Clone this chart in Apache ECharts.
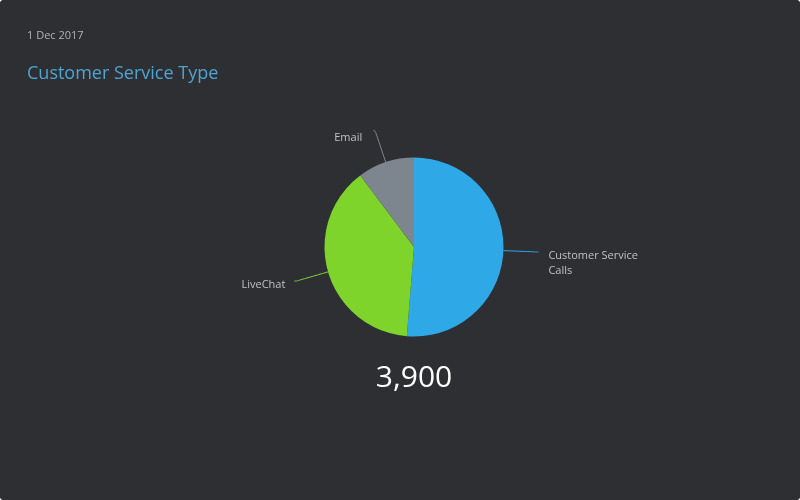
<!DOCTYPE html>
<html>
<head>
<meta charset="utf-8">
<script src="https://cdn.jsdelivr.net/npm/echarts@6/dist/echarts.min.js"></script>
<style>
  html, body { margin: 0; padding: 0; background: #ffffff; }
  #chart { width: 800px; height: 500px; background: #2e2f33; border-radius: 4px; overflow: hidden; }
</style>
</head>
<body>
<div id="chart"></div>
<script>
// data
var categories = ['Customer Service Calls', 'LiveChat', 'Email'];
var values = [2000, 1500, 400];
var colors = ['#2fa8e7', '#7ed42b', '#7d868e'];
var dateLabel = '1 Dec 2017';
var titleText = 'Customer Service Type';

var total = values.reduce(function (a, b) { return a + b; }, 0);

// nudges so the labels sit like the original connectors
var labelShiftX = [1, 0, -2];
var labelShiftY = [11, 4, 7];

var chart = echarts.init(document.getElementById('chart'), null, { renderer: 'canvas' });

var seriesData = categories.map(function (name, i) {
  return {
    name: name,
    value: values[i],
    itemStyle: { color: colors[i] },
    labelLine: { lineStyle: { color: colors[i] } }
  };
});

var option = {
  backgroundColor: '#2e2f33',
  animation: false,
  title: [{
    text: dateLabel,
    left: 22,
    top: 25,
    textStyle: { color: '#b3b3b3', fontSize: 11, fontWeight: 'normal', fontFamily: 'Open Sans' }
  }, {
    text: titleText,
    left: 22,
    top: 60,
    textStyle: { color: '#4ea4d3', fontSize: 18, fontWeight: 'normal', fontFamily: 'Open Sans' }
  }],
  graphic: [{
    type: 'text',
    x: 414,
    y: 378,
    style: {
      text: total.toLocaleString('en-US'),
      fill: '#ffffff',
      font: '30px "Open Sans"',
      textAlign: 'center',
      textVerticalAlign: 'middle'
    }
  }],
  series: [{
    type: 'pie',
    center: [414, 247],
    radius: 89.5,
    startAngle: 90,
    clockwise: true,
    data: seriesData,
    itemStyle: { borderWidth: 0 },
    label: {
      color: '#c0c0c0',
      fontSize: 11,
      fontFamily: 'Open Sans',
      lineHeight: 15,
      width: 95,
      overflow: 'break',
      distanceToLabelLine: 9,
      formatter: '{b}'
    },
    labelLine: {
      length: 33,
      length2: 2,
      smooth: 0.3,
      lineStyle: { width: 1 }
    },
    labelLayout: function (params) {
      return { dx: labelShiftX[params.dataIndex], dy: labelShiftY[params.dataIndex] };
    },
    emphasis: { disabled: true }
  }]
};

chart.setOption(option);
</script>
</body>
</html>
